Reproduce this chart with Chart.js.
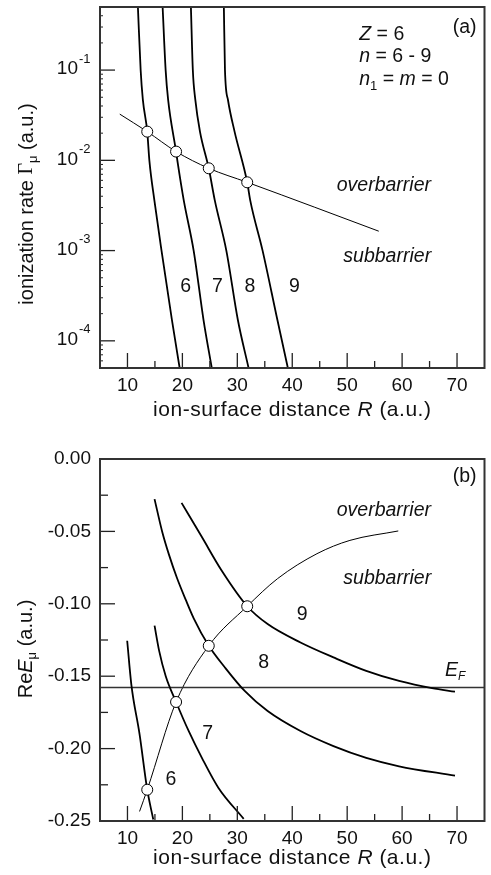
<!DOCTYPE html>
<html><head><meta charset="utf-8">
<script src="https://cdn.jsdelivr.net/npm/chart.js@4.4.1/dist/chart.umd.min.js"></script>
<style>html,body{margin:0;padding:0;background:#fff;}canvas{display:block;}</style>
</head><body>
<canvas id="ca" width="491" height="430"></canvas>
<canvas id="cb" width="491" height="445"></canvas>
<script>
// ---------- data: panel (a) ionization rate vs R ----------
const rateR6 = [11.9, 12.4, 12.8, 13.6, 14.0, 14.9, 16.2, 18.1, 19.5];
const rateG6 = [0.5, 0.1, 0.047, 0.0208, 0.0098, 0.0036, 0.001, 0.00017, 0.00005];
const rateR7 = [16.4, 16.95, 17.4, 18.85, 19.1, 20.25, 22.05, 23.85, 25.35];
const rateG7 = [0.5, 0.1, 0.047, 0.0125, 0.0098, 0.0036, 0.001, 0.00017, 0.00005];
const rateR8 = [21.55, 21.9, 22.35, 23.2, 24.8, 25.9, 28.0, 30.1, 32.05];
const rateG8 = [0.5, 0.1, 0.047, 0.0208, 0.00816, 0.0036, 0.001, 0.00017, 0.00005];
const rateR9 = [27.55, 27.75, 28.3, 29.5, 31.8, 32.35, 34.6, 37.3, 39.2];
const rateG9 = [0.5, 0.1, 0.0466, 0.0208, 0.00571, 0.0036, 0.001, 0.00017, 0.00005];
const rateBarrierR = [8.6, 13.6, 18.85, 24.8, 31.8, 38.0, 44.1, 55.75];
const rateBarrierG = [0.0325, 0.0208, 0.0125, 0.00816, 0.00571, 0.00415, 0.00302, 0.00164];
const critR = [13.6, 18.85, 24.8, 31.8];
const critG = [0.0208, 0.0125, 0.00816, 0.00571];
// ---------- data: panel (b) Re E vs R ----------
const enR6 = [9.95, 10.7, 12.2, 13.6, 14.7];
const enE6 = [-0.1255, -0.1556, -0.190, -0.2284, -0.249];
const enR7 = [14.93, 15.77, 16.97, 18.85, 21.16, 23.55, 26.54, 31.16];
const enE7 = [-0.1151, -0.1325, -0.150, -0.1678, -0.188, -0.2064, -0.227, -0.2485];
const enR8 = [14.93, 16.31, 17.57, 19.0, 20.62, 22.06, 24.8, 27.75, 31.34, 35.52, 41.5, 47.5, 53.47, 59.45, 69.63];
const enE8 = [-0.0277, -0.050, -0.0662, -0.082, -0.0973, -0.110, -0.129, -0.144, -0.1602, -0.1741, -0.1879, -0.1983, -0.2064, -0.2122, -0.2187];
const enR9 = [19.85, 23.55, 27.14, 31.8, 35.52, 41.5, 47.5, 53.47, 59.45, 65.45, 69.63];
const enE9 = [-0.0303, -0.0539, -0.077, -0.1017, -0.114, -0.1267, -0.137, -0.1463, -0.1533, -0.1583, -0.1607];
const enBarrierR = [12.2, 13.6, 18.85, 24.8, 31.8, 37.3, 44.5, 50.5, 59.3];
const enBarrierE = [-0.2434, -0.2284, -0.1678, -0.129, -0.1017, -0.0827, -0.0654, -0.0562, -0.0497];
const critE = [-0.2284, -0.1678, -0.129, -0.1017];
const fermiR = [5, 75];
const fermiE = [-0.1578, -0.1578];
// ---------- axes / ticks ----------
const xRange = [5, 75];
const rateRange = [5e-5, 0.5];
const energyRange = [-0.25, 0];
const xTickValues = [10, 20, 30, 40, 50, 60, 70];
const xMinorValues = [15, 25, 35, 45, 55, 65];
const rateTickValues = [1e-4, 1e-3, 1e-2, 1e-1];
const rateTickExps = ['-4', '-3', '-2', '-1'];
const energyTickValues = [0, -0.05, -0.10, -0.15, -0.20, -0.25];
const energyTickLabels = ['0.00', '-0.05', '-0.10', '-0.15', '-0.20', '-0.25'];
const energyMinorValues = [-0.025, -0.075, -0.125, -0.175, -0.225];
// ---------- annotations (data coords) ----------
const rateLabelsN = ['6', '7', '8', '9'];
const rateLabelsR = [20.6, 26.4, 32.3, 40.4];
const rateLabelsG = [4.0e-4, 4.0e-4, 4.0e-4, 4.0e-4];
const enLabelsN = ['6', '7', '8', '9'];
const enLabelsR = [17.9, 24.6, 34.8, 41.8];
const enLabelsE = [-0.2214, -0.19, -0.1406, -0.1075];

const SANS = '"Liberation Sans", Arial, sans-serif';
const F = (sz, st) => (st ? st + ' ' : '') + sz + 'px ' + SANS;
const INK = '#111';

function pts(xs, ys) { return xs.map((x, i) => ({ x: x, y: ys[i] })); }
function curve(xs, ys, w) {
  return { data: pts(xs, ys), borderColor: '#000', borderWidth: w, pointRadius: 0, fill: false,
    cubicInterpolationMode: 'monotone', showLine: true, order: 2 };
}
function circles(xs, ys) {
  return { data: pts(xs, ys), showLine: false, pointRadius: 5.5, pointBackgroundColor: '#fff',
    pointBorderColor: '#000', pointBorderWidth: 1, order: 0 };
}
function runs(ctx, x, y, parts, align, spacing) {
  ctx.letterSpacing = spacing || '0px';
  let w = 0;
  parts.forEach(p => { ctx.font = p.f; w += ctx.measureText(p.t).width; });
  let cx = align === 'center' ? x - w / 2 : (align === 'right' ? x - w : x);
  ctx.textAlign = 'left';
  parts.forEach(p => { ctx.font = p.f; ctx.fillText(p.t, cx, y + (p.dy || 0)); cx += ctx.measureText(p.t).width; });
  ctx.letterSpacing = '0px';
}
function seg(ctx, x1, y1, x2, y2) { ctx.beginPath(); ctx.moveTo(x1, y1); ctx.lineTo(x2, y2); ctx.stroke(); }
function drawXAxis(ctx, a, x) {
  ctx.strokeStyle = '#222'; ctx.lineWidth = 1.3;
  xTickValues.forEach(v => { const p = x.getPixelForValue(v); seg(ctx, p, a.bottom, p, a.bottom - 15); });
  xMinorValues.forEach(v => { const p = x.getPixelForValue(v); seg(ctx, p, a.bottom, p, a.bottom - 7); });
  ctx.fillStyle = INK; ctx.font = F(19); ctx.textAlign = 'center'; ctx.textBaseline = 'middle';
  xTickValues.forEach(v => ctx.fillText(String(v), x.getPixelForValue(v), a.bottom + 18));
}
function xTitle(ctx, cx, cy) {
  runs(ctx, cx, cy, [
    { t: 'ion-surface distance ', f: F(21) }, { t: 'R', f: F(21, 'italic') }, { t: ' (a.u.)', f: F(21) }], 'center', '0.5px');
}
function frame(ctx, a) {
  ctx.strokeStyle = '#333'; ctx.lineWidth = 2;
  ctx.strokeRect(a.left, a.top, a.right - a.left, a.bottom - a.top);
}

const decoA = { id: 'decoA', afterDraw(chart) {
  const ctx = chart.ctx, a = chart.chartArea, x = chart.scales.x, y = chart.scales.y;
  ctx.save();
  drawXAxis(ctx, a, x);
  ctx.strokeStyle = '#222'; ctx.lineWidth = 1.3;
  rateTickValues.forEach(v => { const p = y.getPixelForValue(v); seg(ctx, a.left, p, a.left + 15, p); });
  ctx.lineWidth = 1;
  for (let d = 1e-5; d < 1; d *= 10) for (let m = 2; m <= 9; m++) {
    const v = m * d; if (v <= rateRange[0] || v >= rateRange[1]) continue;
    const p = y.getPixelForValue(v); seg(ctx, a.left, p, a.left + 3, p);
  }
  ctx.fillStyle = INK; ctx.textBaseline = 'middle';
  rateTickValues.forEach((v, i) => {
    const p = y.getPixelForValue(v);
    ctx.font = F(19); ctx.textAlign = 'right'; ctx.fillText('10', a.left - 22, p - 1);
    ctx.font = F(13); ctx.textAlign = 'left'; ctx.fillText(rateTickExps[i], a.left - 21, p - 11);
  });
  frame(ctx, a);
  ctx.fillStyle = INK; ctx.textBaseline = 'middle';
  xTitle(ctx, (a.left + a.right) / 2, 410);
  ctx.save(); ctx.translate(27, 204); ctx.rotate(-Math.PI / 2);
  runs(ctx, 0, 0, [
    { t: 'ionization rate ', f: F(20) }, { t: 'Γ', f: '20px "Liberation Serif", serif' },
    { t: 'μ', f: F(13), dy: 6 }, { t: ' (a.u.)', f: F(20) }], 'center');
  ctx.restore();
  ctx.font = F(19.5); ctx.textAlign = 'center';
  rateLabelsN.forEach((t, i) => ctx.fillText(t, x.getPixelForValue(rateLabelsR[i]), y.getPixelForValue(rateLabelsG[i])));
  ctx.textAlign = 'right'; ctx.fillText('(a)', a.right - 8, a.top + 21);
  ctx.font = F(19.5, 'italic'); ctx.textAlign = 'left';
  ctx.fillText('overbarrier', x.getPixelForValue(48.1), y.getPixelForValue(5.2e-3));
  ctx.fillText('subbarrier', x.getPixelForValue(49.3), y.getPixelForValue(8.5e-4));
  const lx = x.getPixelForValue(52.2);
  runs(ctx, lx, a.top + 28, [{ t: 'Z', f: F(19.5, 'italic') }, { t: ' = 6', f: F(19.5) }], 'left');
  runs(ctx, lx, a.top + 50, [{ t: 'n', f: F(19.5, 'italic') }, { t: ' = 6 - 9', f: F(19.5) }], 'left');
  runs(ctx, lx, a.top + 73, [{ t: 'n', f: F(19.5, 'italic') }, { t: '1', f: F(13), dy: 6 }, { t: ' = ', f: F(19.5) },
    { t: 'm', f: F(19.5, 'italic') }, { t: ' = 0', f: F(19.5) }], 'left');
  ctx.restore();
} };

const decoB = { id: 'decoB', afterDraw(chart) {
  const ctx = chart.ctx, a = chart.chartArea, x = chart.scales.x, y = chart.scales.y;
  ctx.save();
  drawXAxis(ctx, a, x);
  ctx.strokeStyle = '#222'; ctx.lineWidth = 1.3;
  energyTickValues.forEach(v => { const p = y.getPixelForValue(v); seg(ctx, a.left, p, a.left + 15, p); });
  energyMinorValues.forEach(v => { const p = y.getPixelForValue(v); seg(ctx, a.left, p, a.left + 8, p); });
  ctx.fillStyle = INK; ctx.textBaseline = 'middle'; ctx.font = F(19); ctx.textAlign = 'right';
  energyTickValues.forEach((v, i) => ctx.fillText(energyTickLabels[i], a.left - 9, y.getPixelForValue(v)));
  frame(ctx, a);
  xTitle(ctx, (a.left + a.right) / 2, 428);
  ctx.save(); ctx.translate(26, 219); ctx.rotate(-Math.PI / 2);
  runs(ctx, 0, 0, [
    { t: 'Re', f: F(20) }, { t: 'E', f: F(20, 'italic') }, { t: 'μ', f: F(13), dy: 6 }, { t: ' (a.u.)', f: F(20) }], 'center');
  ctx.restore();
  ctx.font = F(19.5); ctx.textAlign = 'center';
  enLabelsN.forEach((t, i) => ctx.fillText(t, x.getPixelForValue(enLabelsR[i]), y.getPixelForValue(enLabelsE[i])));
  ctx.textAlign = 'right'; ctx.fillText('(b)', a.right - 8, a.top + 18);
  ctx.font = F(19.5, 'italic'); ctx.textAlign = 'left';
  ctx.fillText('overbarrier', x.getPixelForValue(48.1), y.getPixelForValue(-0.0354));
  ctx.fillText('subbarrier', x.getPixelForValue(49.3), y.getPixelForValue(-0.0825));
  runs(ctx, x.getPixelForValue(67.8), y.getPixelForValue(-0.1463), [
    { t: 'E', f: F(19.5, 'italic') }, { t: 'F', f: F(12, 'italic'), dy: 6 }], 'left');
  ctx.restore();
} };

const baseOpts = (pad, yScale) => ({
  responsive: false, animation: false,
  layout: { padding: pad },
  plugins: { legend: { display: false }, tooltip: { enabled: false } },
  scales: { x: { type: 'linear', min: xRange[0], max: xRange[1], display: false }, y: yScale }
});

new Chart(document.getElementById('ca'), {
  type: 'line',
  data: { datasets: [
    curve(rateR6, rateG6, 1.8), curve(rateR7, rateG7, 1.8), curve(rateR8, rateG8, 1.8), curve(rateR9, rateG9, 1.8),
    curve(rateBarrierR, rateBarrierG, 1), circles(critR, critG)] },
  options: baseOpts({ left: 100, top: 7, right: 2, bottom: 62 },
    { type: 'logarithmic', min: rateRange[0], max: rateRange[1], display: false }),
  plugins: [decoA]
});

new Chart(document.getElementById('cb'), {
  type: 'line',
  data: { datasets: [
    curve(enR6, enE6, 1.8), curve(enR7, enE7, 1.8), curve(enR8, enE8, 1.8), curve(enR9, enE9, 1.8),
    Object.assign(curve(fermiR, fermiE, 1.5), { borderColor: '#333', cubicInterpolationMode: 'default', tension: 0 }),
    curve(enBarrierR, enBarrierE, 1), circles(critR, critE)] },
  options: baseOpts({ left: 100, top: 29, right: 2, bottom: 54 },
    { type: 'linear', min: energyRange[0], max: energyRange[1], display: false }),
  plugins: [decoB]
});
</script>
</body></html>
